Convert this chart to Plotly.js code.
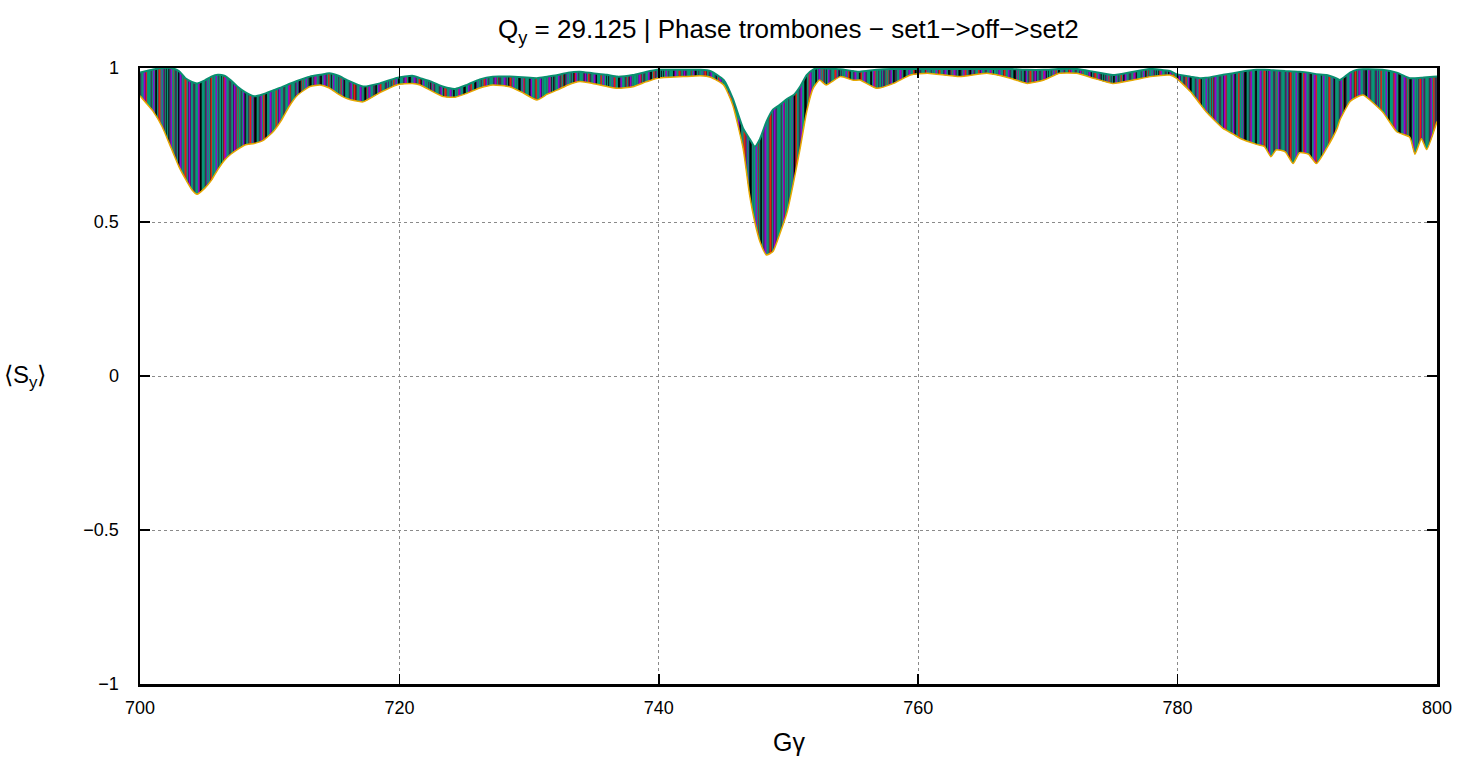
<!DOCTYPE html>
<html>
<head>
<meta charset="utf-8">
<script src="https://cdn.plot.ly/plotly-3.0.1.min.js"></script>
<style>
  html, body { margin: 0; padding: 0; background: #fff; }
  #chart { width: 1468px; height: 763px; }
</style>
</head>
<body>
<div id="chart"></div>
<script>
// ===================== DATA =====================
// Envelope of the spin tracking band (max / min over all runs)

const gamma = [
    700.0, 700.5, 701.0, 701.7, 702.4, 703.0, 703.5, 704.0, 704.4, 705.0,
    705.5, 706.0, 706.5, 707.0, 707.5, 708.1, 708.8, 709.5, 710.3, 710.9,
    711.5, 712.1, 713.1, 713.9, 714.6, 715.3, 716.0, 717.2, 718.5, 719.8,
    721.0, 721.6, 722.5, 723.4, 724.3, 725.2, 726.2, 727.2, 728.5, 729.5,
    730.6, 731.4, 732.2, 733.0, 733.9, 734.9, 736.0, 736.8, 738.0, 739.0,
    739.9, 741.9, 743.2, 744.0, 745.0, 745.7, 746.5, 747.0, 747.4, 747.8,
    748.3, 748.8, 749.3, 749.9, 750.4, 750.9, 751.4, 751.9, 752.4, 752.9,
    754.0, 755.0, 755.5, 756.8, 758.1, 759.4, 760.7, 763.2, 765.3, 767.1,
    768.4, 769.7, 770.9, 772.2, 773.5, 775.0, 776.6, 777.9, 779.4, 779.9,
    781.0, 781.7, 782.2, 783.5, 784.3, 784.8, 786.1, 786.7, 787.2, 787.6,
    788.3, 788.9, 789.4, 790.1, 790.7, 791.5, 792.3, 792.5, 793.3, 793.8,
    794.3, 795.8, 796.9, 797.9, 798.3, 798.8, 799.2, 800.0
];

const syUpper = [
    0.985, 0.990, 0.995, 1.000, 1.000, 0.990, 0.967, 0.955, 0.950, 0.960,
    0.972, 0.978, 0.975, 0.960, 0.940, 0.922, 0.908, 0.915, 0.928, 0.937,
    0.948, 0.958, 0.972, 0.978, 0.983, 0.975, 0.960, 0.940, 0.950, 0.968,
    0.975, 0.967, 0.955, 0.939, 0.932, 0.945, 0.963, 0.972, 0.972, 0.970,
    0.967, 0.972, 0.977, 0.985, 0.988, 0.983, 0.978, 0.972, 0.977, 0.987,
    0.994, 0.994, 0.994, 0.990, 0.961, 0.901, 0.804, 0.770, 0.745, 0.770,
    0.826, 0.865, 0.880, 0.900, 0.912, 0.940, 0.977, 0.995, 1.000, 0.998,
    0.996, 0.990, 0.988, 0.994, 0.997, 0.997, 0.997, 0.997, 0.997, 0.997,
    0.994, 0.994, 0.997, 0.997, 0.988, 0.977, 0.988, 0.997, 0.990, 0.980,
    0.972, 0.967, 0.968, 0.978, 0.983, 0.987, 0.994, 0.994, 0.993, 0.992,
    0.990, 0.989, 0.988, 0.985, 0.980, 0.977, 0.965, 0.961, 0.985, 0.994,
    0.996, 0.994, 0.985, 0.967, 0.967, 0.968, 0.970, 0.972
];

const syLower = [
    0.910, 0.885, 0.860, 0.810, 0.740, 0.680, 0.640, 0.605, 0.590, 0.610,
    0.635, 0.670, 0.700, 0.720, 0.735, 0.750, 0.755, 0.765, 0.795, 0.830,
    0.875, 0.910, 0.940, 0.945, 0.935, 0.915, 0.900, 0.890, 0.920, 0.945,
    0.950, 0.945, 0.925, 0.907, 0.905, 0.918, 0.935, 0.945, 0.939, 0.920,
    0.896, 0.915, 0.929, 0.945, 0.956, 0.950, 0.940, 0.934, 0.939, 0.955,
    0.967, 0.972, 0.975, 0.970, 0.945, 0.880, 0.739, 0.588, 0.500, 0.436,
    0.393, 0.404, 0.458, 0.533, 0.631, 0.739, 0.858, 0.934, 0.961, 0.945,
    0.972, 0.960, 0.961, 0.934, 0.950, 0.977, 0.983, 0.972, 0.983, 0.967,
    0.950, 0.961, 0.983, 0.983, 0.967, 0.950, 0.961, 0.972, 0.977, 0.967,
    0.923, 0.885, 0.858, 0.804, 0.785, 0.772, 0.752, 0.745, 0.712, 0.734,
    0.728, 0.690, 0.725, 0.720, 0.690, 0.740, 0.804, 0.830, 0.891, 0.905,
    0.912, 0.858, 0.793, 0.775, 0.720, 0.770, 0.735, 0.826
];

const xTicks = [700, 720, 740, 760, 780, 800];
const yTicks = [-1, -0.5, 0, 0.5, 1];
const yTickText = ['\u22121', '\u22120.5', '0', '0.5', '1'];

// ===================== BAND TRACES =====================
// Same envelope drawn several times, each with its own stripe colour

const stripeLayers = [
    { color: '#009e73', size: 6,  solidity: 0.55, base: '#3b3450' },   // teal on dark base
    { color: '#000000', size: 11, solidity: 0.22, base: null },        // black
    { color: '#e51e10', size: 13, solidity: 0.16, base: null },        // red
    { color: '#9400d3', size: 9,  solidity: 0.22, base: null },        // violet
    { color: '#0f8f7a', size: 5,  solidity: 0.25, base: null }         // more teal
];

const traces = [];
stripeLayers.forEach(function (layer) {
    traces.push({
        x: gamma, y: syLower,
        type: 'scatter', mode: 'lines',
        line: { color: 'rgba(0,0,0,0)', width: 0, shape: 'spline', smoothing: 0.5 },
        hoverinfo: 'skip', showlegend: false
    });
    traces.push({
        x: gamma, y: syUpper,
        type: 'scatter', mode: 'lines',
        fill: 'tonexty',
        fillcolor: layer.base ? layer.base : 'rgba(0,0,0,0)',
        fillpattern: {
            shape: '|',
            fgcolor: layer.color,
            bgcolor: layer.base ? layer.base : 'rgba(0,0,0,0)',
            size: layer.size,
            solidity: layer.solidity
        },
        line: { color: 'rgba(0,0,0,0)', width: 0, shape: 'spline', smoothing: 0.5 },
        hoverinfo: 'skip', showlegend: false
    });
});

// edges of the band: teal on top, orange/yellow tips underneath
traces.push({
    x: gamma, y: syUpper, type: 'scatter', mode: 'lines',
    line: { color: '#0a8f70', width: 2, shape: 'spline', smoothing: 0.5 },
    hoverinfo: 'skip', showlegend: false
});
traces.push({
    x: gamma, y: syLower, type: 'scatter', mode: 'lines',
    line: { color: '#e6a800', width: 1.5, shape: 'spline', smoothing: 0.5 },
    hoverinfo: 'skip', showlegend: false
});

// ===================== LAYOUT =====================

const axisCommon = {
    showline: true, linecolor: '#000', linewidth: 2.5, mirror: 'ticks',
    ticks: 'inside', ticklen: 10, tickwidth: 1.5, tickcolor: '#000',
    showgrid: true, gridcolor: '#8a8a8a', gridwidth: 1, griddash: 'dot',
    zeroline: false,
    tickfont: { family: 'Liberation Sans, Arial, sans-serif', size: 18, color: '#000' }
};

const layout = {
    width: 1468, height: 763,
    margin: { l: 140, r: 31, t: 68, b: 79 },
    paper_bgcolor: '#fff', plot_bgcolor: '#fff',
    font: { family: 'Liberation Sans, Arial, sans-serif', color: '#000' },
    title: {
        text: 'Q<sub>y</sub> = 29.125 | Phase trombones \u2212 set1\u2212>off\u2212>set2',
        font: { size: 26, color: '#000' },
        x: 0.537, xanchor: 'center', y: 0.962, yanchor: 'middle'
    },
    xaxis: Object.assign({}, axisCommon, {
        range: [700, 800], tickvals: xTicks, ticklabelstandoff: 6
    }),
    yaxis: Object.assign({}, axisCommon, {
        range: [-1, 1], tickvals: yTicks, ticktext: yTickText, ticklabelstandoff: 15
    }),
    annotations: [
        { text: 'G\u03b3', xref: 'paper', yref: 'paper', x: 0.5, y: -0.094,
          xanchor: 'center', yanchor: 'middle', showarrow: false,
          font: { size: 25 } },
        { text: '\u27e8S<sub>y</sub>\u27e9', xref: 'paper', yref: 'paper', x: -0.089, y: 0.5,
          xanchor: 'center', yanchor: 'middle', showarrow: false,
          font: { size: 24 } }
    ],
    showlegend: false
};

Plotly.newPlot('chart', traces, layout, { staticPlot: true, displayModeBar: false });
</script>
</body>
</html>
